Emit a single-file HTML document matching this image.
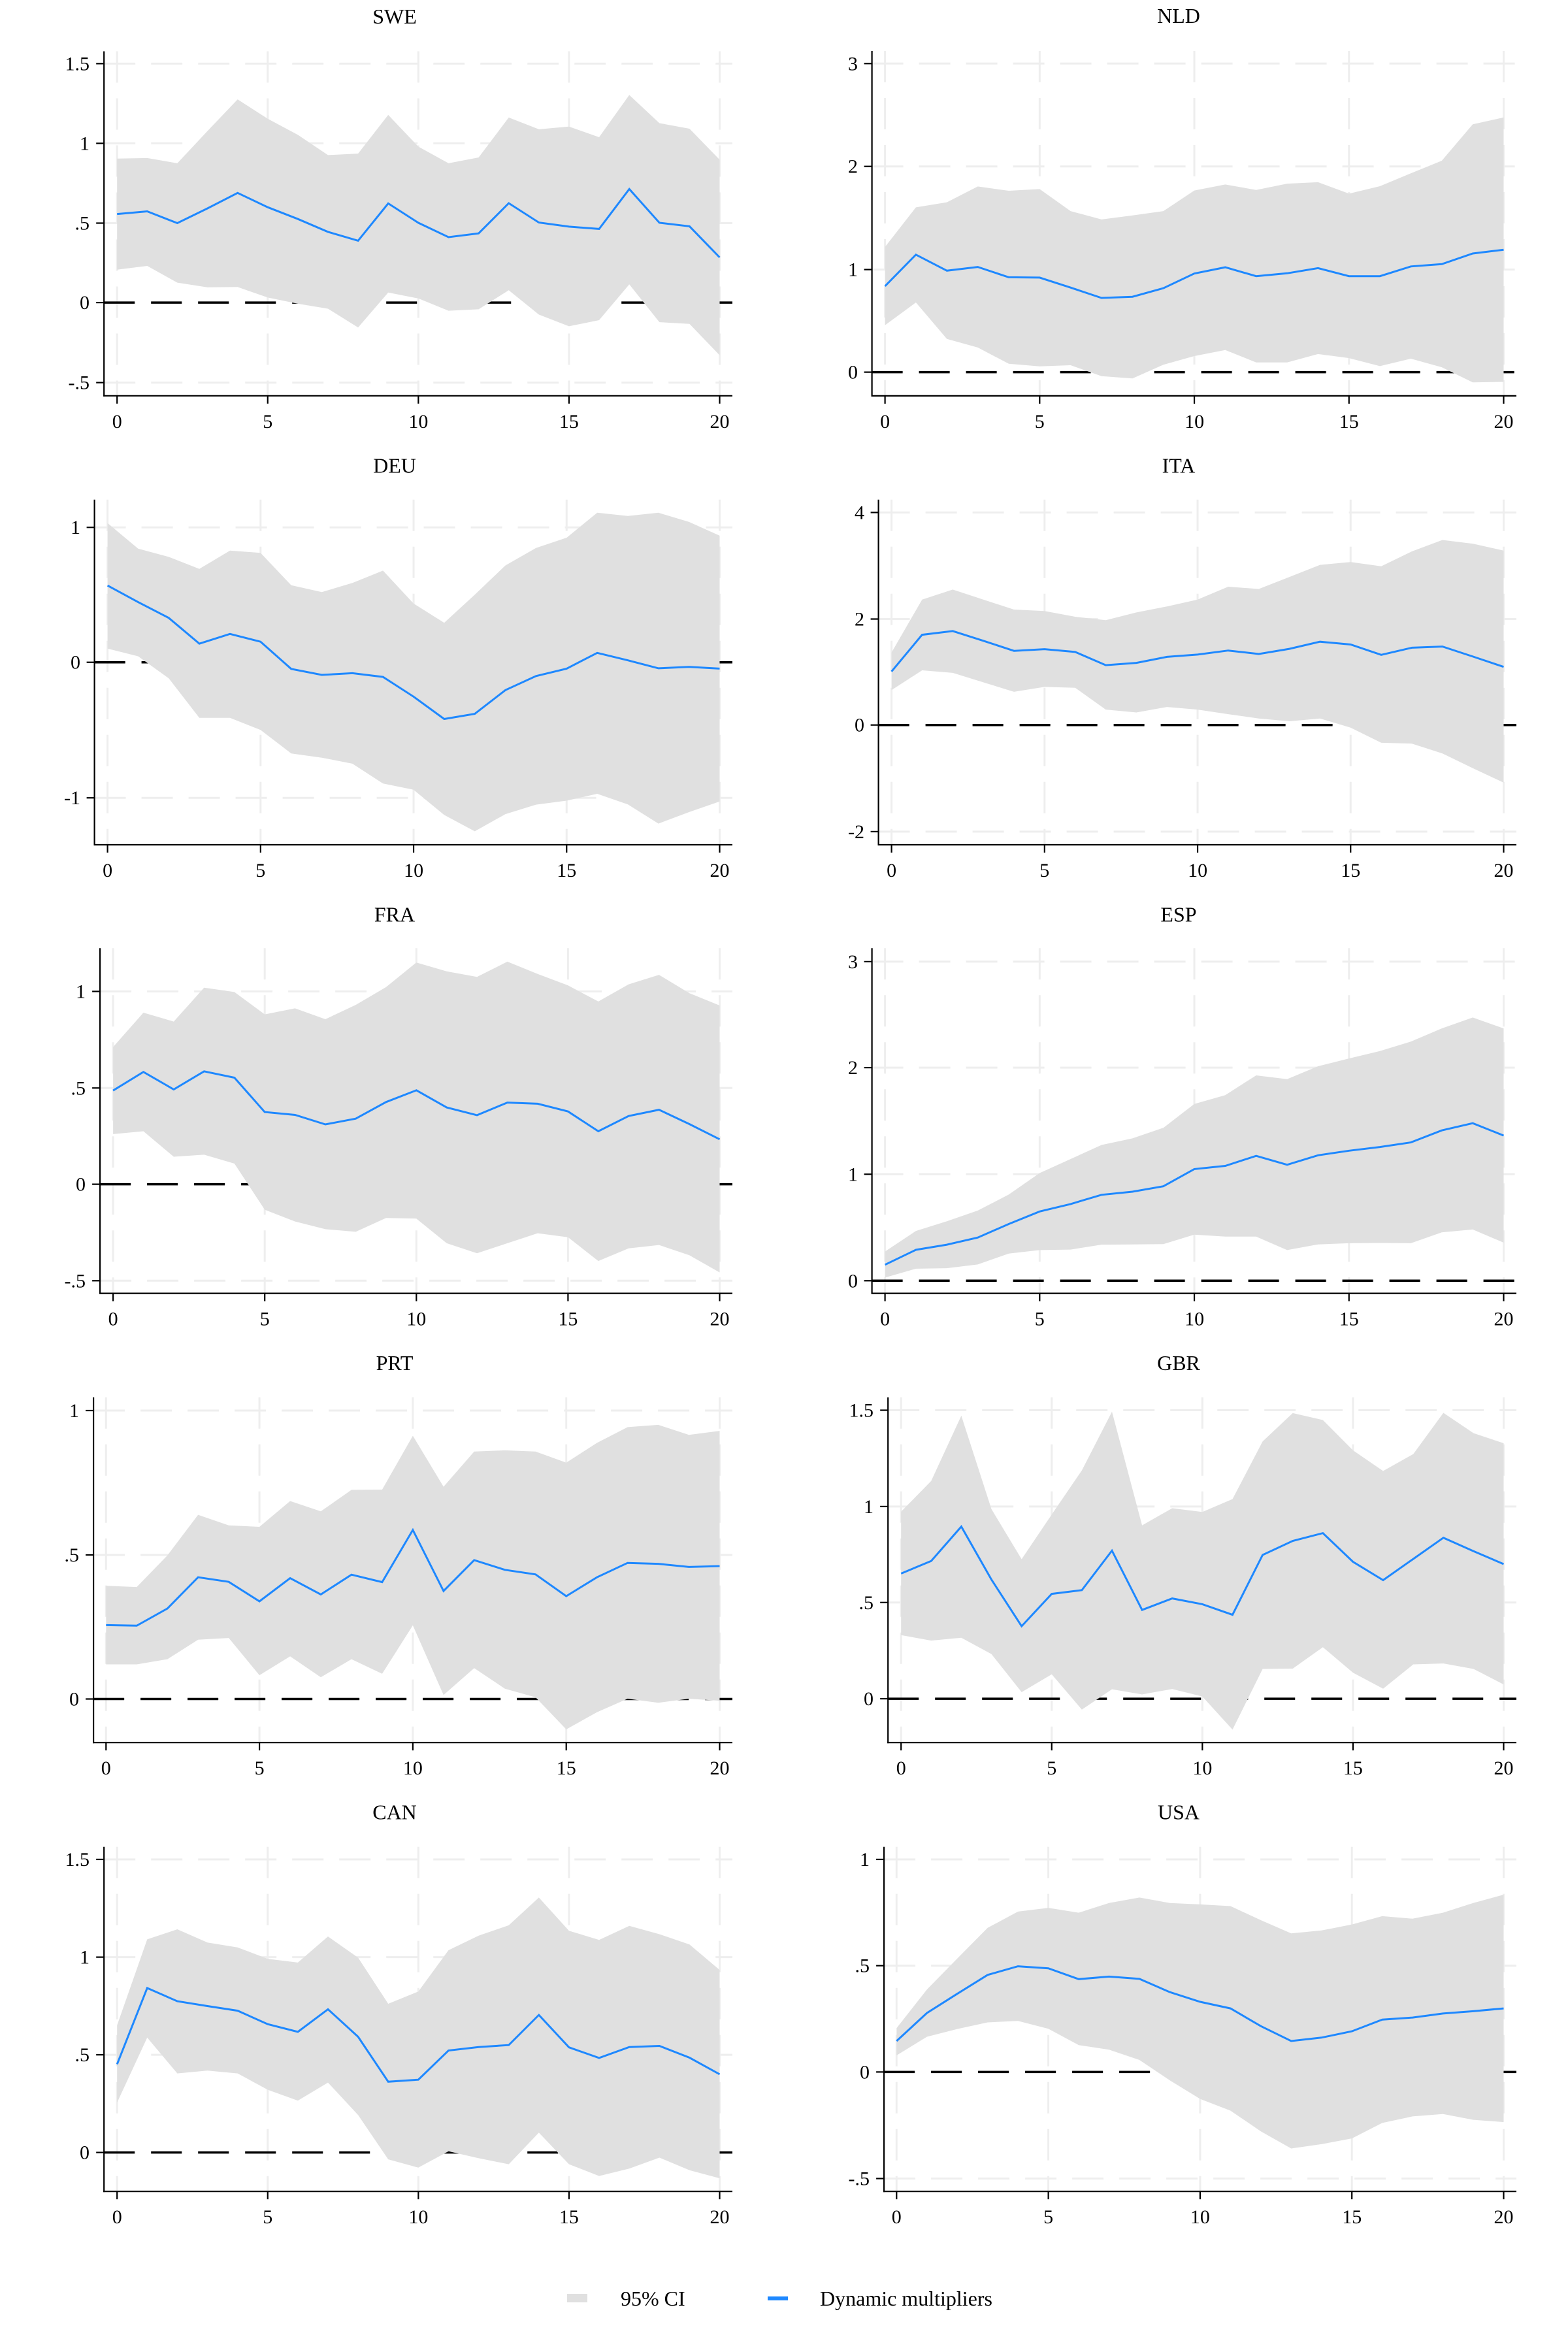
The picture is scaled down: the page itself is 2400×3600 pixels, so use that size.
<!DOCTYPE html>
<html><head><meta charset="utf-8">
<style>
html,body{margin:0;padding:0;background:#fff;}
svg{display:block;}
text{font-family:"Liberation Serif",serif;fill:#000;}
.t{font-size:32px;text-anchor:middle;}
.yl{font-size:30px;text-anchor:end;}
.xl{font-size:30px;text-anchor:middle;}
.lg{font-size:32px;}
</style></head>
<body>
<svg id="fig" xmlns="http://www.w3.org/2000/svg" width="2400" height="3600" viewBox="0 0 2400 3600">
<rect width="2400" height="3600" fill="#fff"/>

<g id="p0" transform="translate(0,0)">
<g class="shapes"></g>
<text class="t" x="604" y="36">SWE</text>
<text class="yl" x="137" y="107.4">1.5</text><text class="yl" x="137" y="229.4">1</text><text class="yl" x="137" y="351.5">.5</text><text class="yl" x="137" y="473.1">0</text><text class="yl" x="137" y="595.6">-.5</text>
<text class="xl" x="179.2" y="655">0</text><text class="xl" x="409.8" y="655">5</text><text class="xl" x="640.4" y="655">10</text><text class="xl" x="870.9" y="655">15</text><text class="xl" x="1101.5" y="655">20</text>
</g>

<g id="p1" transform="translate(1200,0)">
<g class="shapes"></g>
<text class="t" x="604" y="35">NLD</text>
<text class="yl" x="113" y="107.3">3</text><text class="yl" x="113" y="264.7">2</text><text class="yl" x="113" y="422.6">1</text><text class="yl" x="113" y="579.6">0</text>
<text class="xl" x="154.6" y="655">0</text><text class="xl" x="391.3" y="655">5</text><text class="xl" x="628.1" y="655">10</text><text class="xl" x="864.8" y="655">15</text><text class="xl" x="1101.5" y="655">20</text>
</g>

<g id="p2" transform="translate(0,684)">
<g class="shapes"></g>
<text class="t" x="604" y="39.5">DEU</text>
<text class="yl" x="123" y="133.2">1</text><text class="yl" x="123" y="339.7">0</text><text class="yl" x="123" y="547.2">-1</text>
<text class="xl" x="164.6" y="658">0</text><text class="xl" x="398.8" y="658">5</text><text class="xl" x="633.1" y="658">10</text><text class="xl" x="867.3" y="658">15</text><text class="xl" x="1101.5" y="658">20</text>
</g>

<g id="p3" transform="translate(1200,684)">
<g class="shapes"></g>
<text class="t" x="604" y="39.5">ITA</text>
<text class="yl" x="123" y="110.4">4</text><text class="yl" x="123" y="273.5">2</text><text class="yl" x="123" y="435.7">0</text><text class="yl" x="123" y="598.9">-2</text>
<text class="xl" x="164.6" y="658">0</text><text class="xl" x="398.8" y="658">5</text><text class="xl" x="633.1" y="658">10</text><text class="xl" x="867.3" y="658">15</text><text class="xl" x="1101.5" y="658">20</text>
</g>

<g id="p4" transform="translate(0,1368)">
<g class="shapes"></g>
<text class="t" x="604" y="42.6">FRA</text>
<text class="yl" x="131" y="159.5">1</text><text class="yl" x="131" y="307.3">.5</text><text class="yl" x="131" y="454.6">0</text><text class="yl" x="131" y="602.3">-.5</text>
<text class="xl" x="173.1" y="660.6">0</text><text class="xl" x="405.2" y="660.6">5</text><text class="xl" x="637.3" y="660.6">10</text><text class="xl" x="869.4" y="660.6">15</text><text class="xl" x="1101.5" y="660.6">20</text>
</g>

<g id="p5" transform="translate(1200,1368)">
<g class="shapes"></g>
<text class="t" x="604" y="42.6">ESP</text>
<text class="yl" x="113" y="113.9">3</text><text class="yl" x="113" y="276.1">2</text><text class="yl" x="113" y="439.3">1</text><text class="yl" x="113" y="602.3">0</text>
<text class="xl" x="154.6" y="660.6">0</text><text class="xl" x="391.3" y="660.6">5</text><text class="xl" x="628.1" y="660.6">10</text><text class="xl" x="864.8" y="660.6">15</text><text class="xl" x="1101.5" y="660.6">20</text>
</g>

<g id="p6" transform="translate(0,2052)">
<g class="shapes"></g>
<text class="t" x="604" y="45">PRT</text>
<text class="yl" x="121" y="117">1</text><text class="yl" x="121" y="338">.5</text><text class="yl" x="121" y="558.5">0</text>
<text class="xl" x="162.3" y="664.2">0</text><text class="xl" x="397.1" y="664.2">5</text><text class="xl" x="631.9" y="664.2">10</text><text class="xl" x="866.7" y="664.2">15</text><text class="xl" x="1101.5" y="664.2">20</text>
</g>

<g id="p7" transform="translate(1200,2052)">
<g class="shapes"></g>
<text class="t" x="604" y="45">GBR</text>
<text class="yl" x="137" y="116.5">1.5</text><text class="yl" x="137" y="263.9">1</text><text class="yl" x="137" y="410.8">.5</text><text class="yl" x="137" y="558.1">0</text>
<text class="xl" x="179.2" y="664.2">0</text><text class="xl" x="409.8" y="664.2">5</text><text class="xl" x="640.4" y="664.2">10</text><text class="xl" x="870.9" y="664.2">15</text><text class="xl" x="1101.5" y="664.2">20</text>
</g>

<g id="p8" transform="translate(0,2736)">
<g class="shapes"></g>
<text class="t" x="604" y="48.3">CAN</text>
<text class="yl" x="137" y="120">1.5</text><text class="yl" x="137" y="269.6">1</text><text class="yl" x="137" y="419.1">.5</text><text class="yl" x="137" y="568.6">0</text>
<text class="xl" x="179.2" y="667.2">0</text><text class="xl" x="409.8" y="667.2">5</text><text class="xl" x="640.4" y="667.2">10</text><text class="xl" x="870.9" y="667.2">15</text><text class="xl" x="1101.5" y="667.2">20</text>
</g>

<g id="p9" transform="translate(1200,2736)">
<g class="shapes"></g>
<text class="t" x="604" y="48.3">USA</text>
<text class="yl" x="131" y="120">1</text><text class="yl" x="131" y="282.7">.5</text><text class="yl" x="131" y="445.4">0</text><text class="yl" x="131" y="608.5">-.5</text>
<text class="xl" x="172.3" y="667.2">0</text><text class="xl" x="404.6" y="667.2">5</text><text class="xl" x="636.9" y="667.2">10</text><text class="xl" x="869.2" y="667.2">15</text><text class="xl" x="1101.5" y="667.2">20</text>
</g>

<rect x="868" y="3511" width="31" height="13" fill="#e0e0e0"/>
<text class="lg" x="950" y="3529">95% CI</text>
<rect x="1175" y="3515" width="31" height="6" fill="#1e88ff"/>
<text class="lg" x="1255" y="3529">Dynamic multipliers</text>
</svg>
<script>
(function(){
var NS="http://www.w3.org/2000/svg";
var S=2.2807,SW=2.2286;
// config: yaxis, x0, x20, xaxis, top, ticks(orig y), s (out->orig y), mid, up, lo (out px)
var P=[
{ya:159.2,x0:179.2,xa:605.8,top:78.5,t:[97.4,219.4,341.5,463.1,585.6],z:463.1,s:SW,
m:[730,721,761,711,658,707,747,791,821,694,760,809,796,693,759,773,781,645,760,772,878],
u:[541,539,557,447,339,405,460,529,524,392,500,557,537,401,441,432,468,324,420,439,545],
l:[920,907,964,980,979,1015,1036,1053,1117,998,1018,1060,1055,990,1073,1113,1092,970,1099,1105,1212]},
{ya:134.6,x0:154.6,xa:605.9,top:78,t:[97.3,254.7,412.6,569.6],z:569.6,s:S,
m:[999,889,945,932,968,969,1004,1040,1036,1006,955,933,964,954,936,964,964,930,922,885,872],
u:[862,724,706,651,666,660,737,766,752,737,665,644,663,641,636,676,650,605,561,434,410],
l:[1135,1056,1183,1213,1270,1279,1275,1313,1321,1273,1243,1222,1265,1265,1236,1250,1278,1252,1282,1335,1333]},
{ya:144.6,x0:164.6,xa:609,top:80.7,t:[123.2,329.7,537.2],z:329.7,s:S,
m:[484,542,597,687,653,680,775,796,790,803,872,950,932,849,800,774,719,745,773,768,774],
u:[266,355,384,426,362,370,483,507,475,432,547,614,516,414,353,317,230,241,230,262,310],
l:[704,731,808,946,946,988,1070,1085,1106,1175,1197,1285,1342,1282,1249,1235,1211,1248,1315,1275,1238]},
{ya:144.6,x0:164.6,xa:609,top:80.7,t:[100.4,263.5,425.7,588.9],z:425.7,s:S,
m:[784,656,643,677,712,706,716,762,754,733,725,711,723,705,680,690,726,701,697,732,768],
u:[718,533,498,533,568,573,593,605,578,557,533,488,496,454,412,402,417,365,325,338,362],
l:[849,780,789,822,855,838,841,917,927,908,917,933,948,958,948,980,1033,1036,1070,1122,1172]},
{ya:153.1,x0:173.1,xa:611.6,top:83.3,t:[149.5,297.3,444.6,592.3],z:444.6,s:S,
m:[687,622,683,620,642,762,772,805,785,727,686,746,773,729,733,760,829,776,754,804,857],
u:[535,415,446,328,343,421,400,438,388,326,240,271,290,237,280,320,376,316,283,347,390],
l:[839,829,918,911,942,1103,1144,1171,1180,1132,1134,1220,1255,1220,1185,1199,1282,1238,1226,1262,1322]},
{ya:134.6,x0:154.6,xa:611.6,top:83.3,t:[103.9,266.1,429.3,592.3],z:592.3,s:S,
m:[1295,1243,1225,1200,1153,1109,1083,1051,1040,1021,961,950,915,946,913,897,884,868,826,801,844],
u:[1249,1177,1143,1106,1050,975,926,877,854,817,734,703,634,647,602,575,549,516,470,432,470],
l:[1340,1309,1307,1294,1256,1244,1242,1225,1224,1223,1190,1197,1197,1244,1224,1220,1219,1220,1182,1172,1218]},
{ya:143.1,x0:162.3,xa:615.2,top:86.8,t:[107,328,548.5],z:548.5,s:S,
m:[993,995,935,826,842,910,829,886,817,843,661,874,766,800,816,892,826,776,779,790,787],
u:[856,860,750,608,645,650,560,596,521,520,332,510,387,383,387,426,357,302,294,329,315],
l:[1130,1130,1112,1044,1038,1168,1102,1175,1112,1163,994,1237,1143,1215,1245,1357,1297,1250,1264,1250,1257]},
{ya:159.2,x0:179.2,xa:615.2,top:86.8,t:[106.5,253.9,400.8,548.1],z:548.1,s:S,
m:[813,769,649,834,997,884,871,733,940,900,920,957,748,699,672,772,836,762,688,735,780],
u:[597,490,262,588,763,607,453,248,645,585,598,553,352,253,277,383,455,396,252,323,358],
l:[1028,1047,1037,1094,1227,1165,1288,1217,1235,1216,1242,1358,1146,1145,1070,1159,1215,1130,1127,1146,1200]},
{ya:159.2,x0:179.2,xa:618.2,top:90.8,t:[110,259.6,409.1,558.6],z:558.6,s:S,
m:[966,700,746,763,779,826,853,774,870,1027,1020,918,906,899,794,907,944,906,902,943,1001],
u:[830,530,495,541,558,598,611,520,594,755,712,568,517,481,384,500,532,483,512,548,637],
l:[1100,873,998,988,998,1055,1093,1030,1143,1298,1327,1270,1294,1315,1205,1315,1356,1330,1292,1336,1364]},
{ya:153.1,x0:172.3,xa:618.2,top:90.8,t:[110,272.7,435.4,598.5],z:435.4,s:S,
m:[885,787,720,654,624,631,669,660,668,714,748,771,833,885,873,851,810,803,789,781,771],
u:[840,705,597,490,433,420,437,403,384,403,408,414,463,509,499,478,449,458,437,403,374],
l:[935,870,843,820,815,842,899,915,951,1022,1087,1128,1200,1260,1245,1225,1171,1148,1140,1160,1168]}
];
var X20=1101.5,XR=1121;
function el(n,a,p){var e=document.createElementNS(NS,n);for(var k in a)e.setAttribute(k,a[k]);p.appendChild(e);return e;}
P.forEach(function(c,i){
  var g=document.getElementById('p'+i).querySelector('.shapes');
  var dx=(X20-c.x0)/20;
  function X(j){return c.x0+j*dx;}
  // grid horizontal
  c.t.forEach(function(y){el('line',{x1:c.ya,y1:y,x2:XR,y2:y,stroke:'#eeeeee','stroke-width':3,'stroke-dasharray':'48 24'},g);});
  for(var k=0;k<=4;k++){var x=X(k*5);el('line',{x1:x,y1:c.top,x2:x,y2:c.xa,stroke:'#eeeeee','stroke-width':3,'stroke-dasharray':'48 24'},g);}
  // zero line
  el('line',{x1:c.ya,y1:c.z,x2:XR,y2:c.z,stroke:'#000','stroke-width':3.5,'stroke-dasharray':'47 25'},g);
  // band
  var pts=[];
  for(var j=0;j<=20;j++)pts.push(X(j).toFixed(1)+','+(c.u[j]/c.s).toFixed(1));
  for(var j=20;j>=0;j--)pts.push(X(j).toFixed(1)+','+(c.l[j]/c.s).toFixed(1));
  el('polygon',{points:pts.join(' '),fill:'#e0e0e0'},g);
  var mp=[];for(var j=0;j<=20;j++)mp.push(X(j).toFixed(1)+','+(c.m[j]/c.s).toFixed(1));
  el('polyline',{points:mp.join(' '),fill:'none',stroke:'#1e88ff','stroke-width':3,'stroke-linejoin':'miter'},g);
  // axes
  el('line',{x1:c.ya,y1:c.top,x2:c.ya,y2:c.xa+1,stroke:'#000','stroke-width':2.2},g);
  el('line',{x1:c.ya-1,y1:c.xa,x2:XR,y2:c.xa,stroke:'#000','stroke-width':2.2},g);
  c.t.forEach(function(y){el('line',{x1:c.ya-12,y1:y,x2:c.ya,y2:y,stroke:'#000','stroke-width':2.2},g);});
  for(var k=0;k<=4;k++){var x=X(k*5);el('line',{x1:x,y1:c.xa,x2:x,y2:c.xa+12,stroke:'#000','stroke-width':2.2},g);}
});
})();
</script>
</body></html>
